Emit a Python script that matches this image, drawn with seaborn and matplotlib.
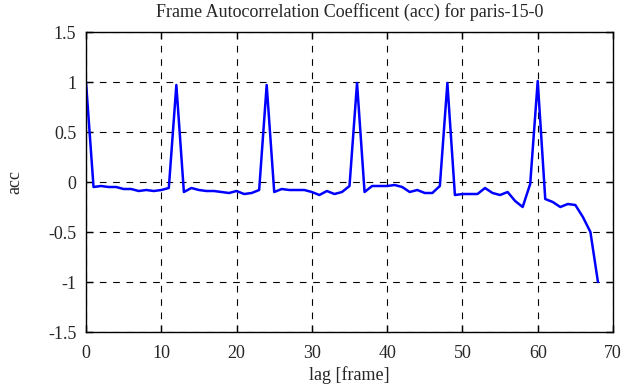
import numpy as np
import pandas as pd
import matplotlib
matplotlib.use("Agg")
import matplotlib.pyplot as plt
import seaborn as sns

# Autocorrelation values, one per lag (frame)
lags = list(range(0, 69))
acc = [1.00, -0.05, -0.04, -0.05, -0.05, -0.07, -0.07, -0.09, -0.08, -0.09,
       -0.08, -0.06, 0.97, -0.10, -0.06, -0.08, -0.09, -0.09, -0.10, -0.11,
       -0.09, -0.12, -0.11, -0.08, 0.97, -0.10, -0.07, -0.08, -0.08, -0.08,
       -0.10, -0.13, -0.09, -0.12, -0.10, -0.04, 0.99, -0.10, -0.04, -0.04,
       -0.04, -0.03, -0.05, -0.10, -0.08, -0.11, -0.11, -0.04, 0.99, -0.13,
       -0.12, -0.12, -0.12, -0.06, -0.11, -0.13, -0.10, -0.19, -0.25, -0.02,
       1.01, -0.17, -0.20, -0.25, -0.22, -0.23, -0.35, -0.50, -1.00]

xticks = [0, 10, 20, 30, 40, 50, 60, 70]
yticks = [-1.5, -1, -0.5, 0, 0.5, 1, 1.5]
ytick_labels = ["-1.5", "-1", "-0.5", "0", "0.5", "1", "1.5"]

df = pd.DataFrame({"lag": lags, "acc": acc})

sns.set_style("white")
plt.rcParams['font.family'] = ['Liberation Serif', 'DejaVu Serif']

fig = plt.figure(figsize=(6.25, 3.87), dpi=100)
ax = fig.add_axes([0.1376, 0.1421, 0.8432, 0.7752])

sns.lineplot(data=df, x="lag", y="acc", color="#0000ff", linewidth=1.8, ax=ax)

ax.set_xlim(0, 70)
ax.set_ylim(-1.5, 1.5)
ax.set_xticks(xticks)
ax.set_yticks(yticks)
ax.set_yticklabels(ytick_labels)
ax.grid(True, color="black", linestyle=(0, (6, 6)), linewidth=0.8)
ax.tick_params(direction="in", length=5, width=1, labelsize=13,
               top=True, right=True, left=True, bottom=True, color="black")
ax.tick_params(axis="x", pad=9.5)
ax.tick_params(axis="y", pad=7)
for sp in ax.spines.values():
    sp.set_color("black")
    sp.set_linewidth(1)

ax.set_xlabel("lag [frame]", fontsize=13, labelpad=3)
ax.set_ylabel("acc", fontsize=13, labelpad=18)
ax.set_title("Frame Autocorrelation Coefficent (acc) for paris-15-0", fontsize=13, pad=11)

fig.savefig("out.png", dpi=100)
